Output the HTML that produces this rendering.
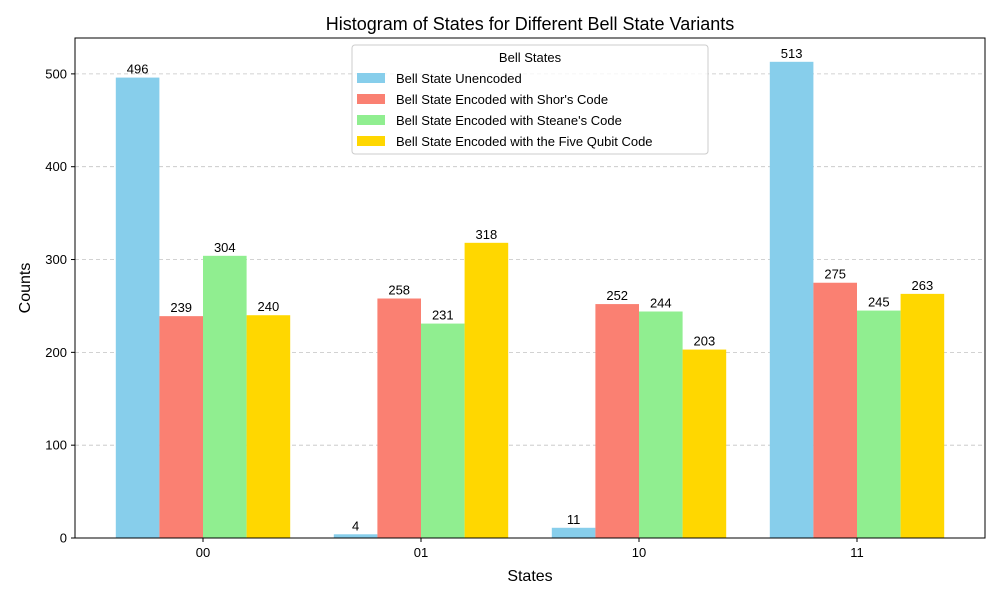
<!DOCTYPE html>
<html><head><meta charset="utf-8">
<style>
body{margin:0;background:#fff;}
svg{font-family:"Liberation Sans","DejaVu Sans",sans-serif;}
</style></head>
<body>
<svg id="chart" width="1000" height="600" xmlns="http://www.w3.org/2000/svg">
<rect width="1000" height="600" fill="#fff"/>
<text x="530" y="30" font-size="18" text-anchor="middle">Histogram of States for Different Bell State Variants</text>
<g id="grid"></g>
<g id="bars"></g>
<rect x="75" y="38" width="910" height="500" fill="none" stroke="#000" stroke-width="1"/>
<g id="axes"></g>
<text x="530" y="581" font-size="16" text-anchor="middle">States</text>
<text x="30" y="288" font-size="16" text-anchor="middle" transform="rotate(-90 30 288)">Counts</text>
<g id="legend">
<rect x="352" y="45" width="356" height="109" rx="3" fill="#fff" fill-opacity="0.8" stroke="#ccc"/>
<text x="530" y="62" font-size="13" text-anchor="middle">Bell States</text>
</g>
</svg>
<script>
const categories=["00","01","10","11"];
const seriesNames=["Bell State Unencoded","Bell State Encoded with Shor's Code","Bell State Encoded with Steane's Code","Bell State Encoded with the Five Qubit Code"];
const unencoded=[496,4,11,513];
const shor=[239,258,252,275];
const steane=[304,231,244,245];
const fiveQubit=[240,318,203,263];
const yTicks=[0,100,200,300,400,500];
const colors=["#87ceeb","#fa8072","#90ee90","#ffd700"];
const series=[unencoded,shor,steane,fiveQubit];
const NS="http://www.w3.org/2000/svg";
const y0=538,yMax=538.65,plotH=500;
function y(v){return y0-v/yMax*plotH;}
function xc(i){return 203+i*218;}
const bw=43.6;
function mk(tag,attrs,parent){const e=document.createElementNS(NS,tag);for(const k in attrs)e.setAttribute(k,attrs[k]);parent.appendChild(e);return e;}
const grid=document.getElementById('grid'),bars=document.getElementById('bars'),axes=document.getElementById('axes'),legend=document.getElementById('legend');
yTicks.forEach(t=>{
  const g=mk('line',{x1:75,x2:985,y1:y(t),y2:y(t),stroke:'#c4c4c4','stroke-dasharray':'4,3','stroke-width':0.8},grid);
  
  
  const tk=mk('line',{x1:71,x2:75,y1:y(t),y2:y(t),stroke:'#000'},axes);
  
  
  const tl=mk('text',{x:67,y:y(t)+4.5,'font-size':13,'text-anchor':'end'},axes);
  tl.textContent=t;
  
  
});
categories.forEach((c,i)=>{
  const tk=mk('line',{x1:xc(i),x2:xc(i),y1:538,y2:542,stroke:'#000'},axes);
  
  
  const tl=mk('text',{x:xc(i),y:557,'font-size':13,'text-anchor':'middle'},axes);
  tl.textContent=c;
  
  
  series.forEach((s,k)=>{
    const cx=xc(i)+(k-1.5)*bw;
    const r=mk('rect',{x:cx-bw/2,y:y(s[i]),width:bw,height:y0-y(s[i]),fill:colors[k]},bars);
    
    
    const vl=mk('text',{x:cx,y:y(s[i])-4,'font-size':13,'text-anchor':'middle'},bars);
    vl.textContent=s[i];
    
    
  });
});
seriesNames.forEach((n,k)=>{
  const ly=78+k*21;
  const sw=mk('rect',{x:357,y:ly-5,width:28,height:10,fill:colors[k]},legend);
  
  
  const t=mk('text',{x:396,y:ly+5,'font-size':13},legend);
  t.textContent=n;
  
  
});
</script>
</body></html>
